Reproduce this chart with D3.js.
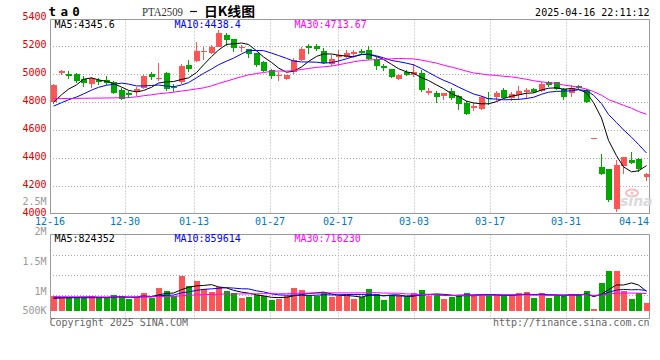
<!DOCTYPE html>
<html><head><meta charset="utf-8">
<script src="https://cdn.jsdelivr.net/npm/d3@7"></script>
<style>html,body{margin:0;padding:0;background:#fff;}svg{display:block;}</style>
</head><body>
<svg id="c" width="660" height="360"></svg>
<script>
// ---------------- DATA ----------------
const dates = ["2024-12-16","2024-12-17","2024-12-18","2024-12-19","2024-12-20","2024-12-23","2024-12-24","2024-12-25","2024-12-26","2024-12-27","2024-12-30","2024-12-31","2025-01-02","2025-01-03","2025-01-06","2025-01-07","2025-01-08","2025-01-09","2025-01-10","2025-01-13","2025-01-14","2025-01-15","2025-01-16","2025-01-17","2025-01-20","2025-01-21","2025-01-22","2025-01-23","2025-01-24","2025-01-27","2025-02-05","2025-02-06","2025-02-07","2025-02-10","2025-02-11","2025-02-12","2025-02-13","2025-02-14","2025-02-17","2025-02-18","2025-02-19","2025-02-20","2025-02-21","2025-02-24","2025-02-25","2025-02-26","2025-02-27","2025-02-28","2025-03-03","2025-03-04","2025-03-05","2025-03-06","2025-03-07","2025-03-10","2025-03-11","2025-03-12","2025-03-13","2025-03-14","2025-03-17","2025-03-18","2025-03-19","2025-03-20","2025-03-21","2025-03-24","2025-03-25","2025-03-26","2025-03-27","2025-03-28","2025-03-31","2025-04-01","2025-04-02","2025-04-03","2025-04-07","2025-04-08","2025-04-09","2025-04-10","2025-04-11","2025-04-14","2025-04-15","2025-04-16"];
const opens  = [4805,5012,5005,5005,4965,4930,4960,4960,4945,4888,4868,4876,4900,5005,4965,5010,4912,4944,5066,5098,5165,5157,5198,5280,5252,5193,5180,5155,5090,5030,4993,4965,5020,5103,5204,5203,5165,5072,5122,5122,5146,5168,5172,5108,5060,5037,4967,5020,4997,5010,4870,4866,4849,4880,4846,4800,4758,4753,4835,4837,4887,4834,4853,4877,4899,4885,4944,4945,4895,4870,4915,4892,4549,4340,4323,4040,4346,4392,4400,4270];
const highs  = [4930,5035,5022,5010,4987,4983,4978,4988,4952,4900,4883,4910,4995,5018,5083,5020,4930,5073,5107,5233,5200,5210,5316,5297,5255,5214,5185,5157,5097,5042,5019,5000,5121,5193,5216,5221,5192,5138,5173,5178,5178,5185,5202,5126,5078,5042,5007,5030,5078,5030,4907,4881,4871,4900,4857,4809,4797,4845,4876,4883,4900,4876,4916,4905,4905,4945,4955,4948,4900,4928,4923,4895,4549,4430,4325,4388,4412,4445,4402,4297];
const lows   = [4790,4995,4970,4940,4910,4900,4925,4925,4860,4815,4835,4845,4893,4960,4955,4885,4875,4935,5020,5090,5105,5150,5195,5205,5162,5162,5120,5055,5019,4967,4952,4960,5007,5100,5145,5169,5073,5062,5060,5115,5121,5138,5105,5035,5026,4976,4959,4990,4985,4876,4857,4798,4821,4821,4750,4709,4740,4745,4785,4810,4826,4810,4816,4828,4870,4878,4910,4890,4818,4840,4893,4800,4549,4283,4090,4020,4288,4364,4305,4240];
const closes = [4923,5022,4990,4955,4940,4973,4950,4938,4870,4822,4855,4893,4988,4985,4975,4897,4903,5064,5040,5165,5170,5200,5295,5245,5188,5197,5148,5068,5027,4992,4998,4995,5105,5180,5186,5180,5080,5108,5136,5154,5158,5156,5113,5062,5048,4985,5000,4997,5018,4888,4883,4841,4869,4829,4792,4718,4776,4838,4830,4868,4830,4860,4882,4892,4878,4933,4925,4897,4842,4900,4902,4805,4549,4290,4102,4352,4410,4370,4326,4288];
const volumes = [638000,609000,567000,567000,581000,638000,538000,538000,680000,638000,510000,581000,779000,567000,978000,850000,638000,1502000,1063000,1289000,935000,808000,1020000,850000,779000,553000,595000,666000,623000,468000,510000,638000,978000,907000,680000,638000,808000,581000,638000,638000,496000,609000,935000,709000,468000,680000,638000,581000,779000,893000,638000,723000,510000,609000,680000,765000,680000,680000,709000,638000,680000,680000,765000,808000,553000,765000,553000,680000,680000,723000,710000,850000,85000,1200000,1700000,1700000,840000,520000,760000,352000];
// closes / volumes of the 29 sessions before the window (only used by the moving averages)
const priorCloses = [5000,4970,4935,4920,4950,4930,4915,4850,4800,4835,4700,4770,4780,4760,4720,4740,4820,4840,4900,4950,4777,4780,4760,4720,4700,4750,4790,4800,4740];
const priorVolumes = [600000,650000,580000,700000,620000,590000,640000,610000,660000,600000,630000,580000,620000,650000,600000,640000,610000,620000,630000,630000,632000,640000,600000,650000,610000,510000,530000,520000,480000];

const priceTicks = [4000,4200,4400,4600,4800,5000,5200,5400];
const volTickValues = [500000,1000000,1500000,2000000,2500000];
const volTickLabels = ["500K","1M","1.5M","2M","2.5M"];
const labelDates = ["2024-12-16","2024-12-30","2025-01-13","2025-01-27","2025-02-17","2025-03-03","2025-03-17","2025-03-31","2025-04-14"];
const maPeriods = [5,10,30];
const priceLegend = ["MA5:4345.6","MA10:4438.4","MA30:4713.67"];
const volLegend = ["MA5:824352","MA10:859614","MA30:716230"];
const titleCode = "PTA2509";
const titleName = "日K线图";
const stamp = "2025-04-16 22:11:12";

// ---------------- STYLE ----------------
const UP = "#ff5555", DOWN = "#00a800";
const MA_COL = ["#000000","#0000ff","#ff00ff"];
const MONO = "'DejaVu Sans Mono', monospace";
const GRID = "#aaaaaa", BORDER = "#999999";

const svg = d3.select("#c");
const n = dates.length;

const xb = d3.scaleBand().domain(d3.range(n)).range([50, 650]).paddingInner(0).paddingOuter(0);
const xg = d3.scaleLinear().domain([0, n - 1]).range([50, 650]);
const left = i => Math.round(xb(i));
const mid = i => left(i) + 3.5;

const y = d3.scaleLinear().domain([4000, 5400]).range([214.5, 18.5]);
const yv = d3.scaleLinear().domain([0, 3250000]).range([311, 234.5]);
const yvLab = d3.scaleLinear().domain([0, 2500000]).range([355, 205]);

const labelIdx = labelDates.map(d => dates.indexOf(d));
const gridIdx = labelIdx.slice(1, -1);

function ma(series, prior, p) {
  const all = prior.concat(series);
  const off = prior.length;
  return series.map((_, i) => {
    const k = i + off;
    return d3.mean(all.slice(Math.max(0, k - p + 1), k + 1));
  });
}

// ---------------- GRID / BORDERS ----------------
const g = svg.append("g");
g.selectAll(".hg").data(priceTicks.filter(v => v > 4000 && v < 5400)).join("line")
  .attr("x1", 50).attr("x2", 649.5).attr("y1", d => y(d)).attr("y2", d => y(d))
  .attr("stroke", GRID).attr("stroke-dasharray", "1,2");
g.selectAll(".vg").data(gridIdx).join("line")
  .attr("x1", d => Math.floor(xg(d)) + 0.5).attr("x2", d => Math.floor(xg(d)) + 0.5)
  .attr("y1", 19.5).attr("y2", 213.5)
  .attr("stroke", GRID).attr("stroke-dasharray", "1,2");
g.selectAll(".vhg").data([255.5, 275.5, 295.5]).join("line")
  .attr("x1", 50).attr("x2", 649.5).attr("y1", d => d).attr("y2", d => d)
  .attr("stroke", GRID).attr("stroke-dasharray", "1,2");
g.selectAll(".vvg").data(gridIdx).join("line")
  .attr("x1", d => Math.floor(xg(d)) + 0.5).attr("x2", d => Math.floor(xg(d)) + 0.5)
  .attr("y1", 234.5).attr("y2", 321)
  .attr("stroke", GRID).attr("stroke-dasharray", "1,2");

function border(top, bot) {
  g.append("path").attr("d", `M50.5,${bot}V${top}H649.5V${bot}M50,${bot}H650`)
    .attr("fill", "none").attr("stroke", BORDER);
}
border(19.5, 213.5);
border(234.5, 318.5);

// watermark
const wm = svg.append("g").attr("opacity", 0.9);
wm.append("ellipse").attr("cx", 632).attr("cy", 193).attr("rx", 6).attr("ry", 3.5)
  .attr("fill", "none").attr("stroke", "#f4b8b8").attr("stroke-width", 2);
wm.append("circle").attr("cx", 632).attr("cy", 193).attr("r", 1.6).attr("fill", "#f4b8b8");
wm.append("text").attr("x", 620).attr("y", 206).text("sina")
  .attr("font-family", "'DejaVu Sans', sans-serif").attr("font-size", 14).attr("font-style", "italic")
  .attr("font-weight", "bold").attr("fill", "#d6d6d6");

// ---------------- CANDLES ----------------
const cd = d3.range(n).map(i => ({i, o: opens[i], h: highs[i], l: lows[i], c: closes[i], v: volumes[i]}));
const col = d => d.c >= d.o ? UP : DOWN;
const cg = svg.append("g").attr("shape-rendering", "crispEdges");
cg.selectAll(".wick").data(cd).join("rect")
  .attr("x", d => left(d.i) + 3).attr("width", 1)
  .attr("y", d => Math.round(y(d.h)))
  .attr("height", d => Math.max(1, Math.round(y(d.l)) - Math.round(y(d.h))))
  .attr("fill", col);
cg.selectAll(".body").data(cd).join("rect")
  .attr("x", d => left(d.i) + 0.5).attr("width", 6)
  .attr("y", d => Math.round(y(Math.max(d.o, d.c))))
  .attr("height", d => Math.max(1, Math.round(y(Math.min(d.o, d.c))) - Math.round(y(Math.max(d.o, d.c)))))
  .attr("fill", col);

maPeriods.forEach((p, k) => {
  const m = ma(closes, priorCloses, p);
  svg.append("path").datum(m)
    .attr("d", d3.line().x((d, i) => mid(i)).y(d => y(d)))
    .attr("fill", "none").attr("stroke", MA_COL[k]).attr("stroke-width", 1);
});

// ---------------- VOLUME ----------------
cg.selectAll(".vbar").data(cd).join("rect")
  .attr("x", d => left(d.i) + 0.5).attr("width", 6)
  .attr("y", d => Math.round(yv(d.v)))
  .attr("height", d => Math.max(2, 311 - Math.round(yv(d.v))))
  .attr("fill", col);
maPeriods.forEach((p, k) => {
  const m = ma(volumes, priorVolumes, p);
  svg.append("path").datum(m)
    .attr("d", d3.line().x((d, i) => mid(i)).y(d => yv(d)))
    .attr("fill", "none").attr("stroke", MA_COL[k]).attr("stroke-width", 1);
});

// ---------------- TEXT ----------------
const t = svg.append("g").attr("font-family", MONO).attr("font-size", 10);
t.selectAll(".pl").data(priceTicks).join("text")
  .attr("x", 46.5).attr("y", d => y(d) + 1.5).attr("text-anchor", "end")
  .attr("fill", "#dd0000").text(d => d);
t.selectAll(".vl").data(volTickValues).join("text")
  .attr("x", 46.5).attr("y", d => Math.min(314, yvLab(d))).attr("text-anchor", "end")
  .attr("fill", "#999").text((d, i) => volTickLabels[i]);
t.selectAll(".dl").data(labelIdx).join("text")
  .attr("x", d => Math.floor(xg(d))).attr("y", 225).attr("text-anchor", "middle")
  .attr("fill", "#0077cc").text(d => dates[d].slice(5));
const legX = [54.5, 174.5, 294.5];
t.selectAll(".lg1").data(priceLegend).join("text")
  .attr("x", (d, i) => legX[i]).attr("y", 27.5).attr("fill", (d, i) => MA_COL[i]).text(d => d);
t.selectAll(".lg2").data(volLegend).join("text")
  .attr("x", (d, i) => legX[i]).attr("y", 241.5).attr("fill", (d, i) => MA_COL[i]).text(d => d);
t.append("text").attr("x", 649.5).attr("y", 15.5).attr("text-anchor", "end").attr("fill", "#000").text(stamp);
svg.append("text").attr("x", 48.5).attr("y", 16).text("ta0")
  .attr("font-family", MONO).attr("font-size", 12.5).attr("font-weight", "bold")
  .attr("letter-spacing", "4.4px").attr("fill", "#000");
svg.append("text").attr("x", 142).attr("y", 15.5).text(titleCode)
  .attr("font-family", "'Liberation Serif', serif").attr("font-size", 13)
  .attr("textLength", 41).attr("lengthAdjust", "spacingAndGlyphs").attr("fill", "#333");
svg.append("line").attr("x1", 190).attr("x2", 197).attr("y1", 11.5).attr("y2", 11.5)
  .attr("stroke", "#111").attr("stroke-width", 1.2);
svg.append("text").attr("x", 204).attr("y", 16).text(titleName)
  .attr("font-family", "'Noto Sans CJK SC', sans-serif").attr("font-size", 13).attr("font-weight", "bold")
  .attr("textLength", 51).attr("lengthAdjust", "spacingAndGlyphs").attr("fill", "#000");
t.append("text").attr("x", 49.5).attr("y", 326).attr("fill", "#666").text("Copyright 2025 SINA.COM");
t.append("text").attr("x", 649.5).attr("y", 326).attr("text-anchor", "end").attr("fill", "#666").text("http://finance.sina.com.cn");
</script>
</body></html>
